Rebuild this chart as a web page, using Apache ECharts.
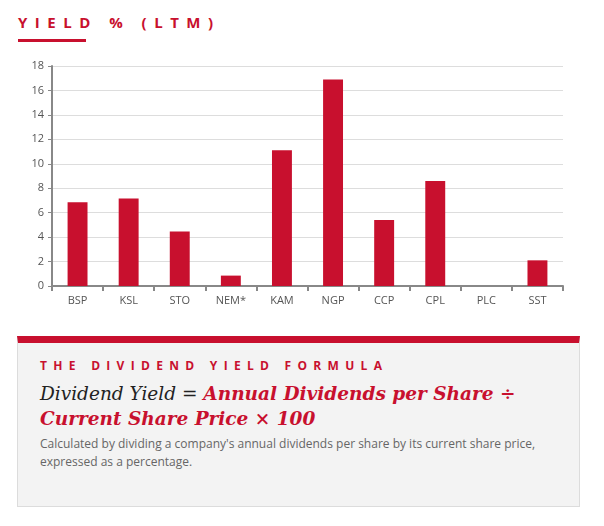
<!DOCTYPE html>
<html>
<head>
<meta charset="utf-8">
<script src="https://cdn.jsdelivr.net/npm/echarts@6/dist/echarts.min.js"></script>
<style>
  body{margin:0;width:604px;height:526px;background:#fff;position:relative;font-family:"Open Sans",sans-serif;overflow:hidden}
  .title{position:absolute;left:18px;top:12px;color:#c8102e;font-weight:bold;font-size:15px;letter-spacing:7.5px;font-family:"Open Sans",sans-serif}
  .uline{position:absolute;left:18px;top:39px;width:68px;height:3px;background:#c8102e}
  #chart{position:absolute;left:0;top:45px;width:604px;height:280px}
  .box{position:absolute;left:17px;top:336px;width:561px;height:163px;background:#f3f3f3;border:1px solid #dcdcdc;border-top:7px solid #c8102e}
  .head{position:absolute;left:22px;top:14px;color:#c8102e;font-weight:bold;font-size:12px;letter-spacing:6.3px}
  .formula{position:absolute;left:22px;top:38px;font-family:"DejaVu Serif",serif;font-style:italic;font-size:18.5px;line-height:25px;color:#222;width:530px}
  .formula b{color:#c8102e}
  .desc{position:absolute;left:22px;top:92px;font-size:12px;line-height:18px;color:#666;width:530px}
</style>
</head>
<body>
<div class="title">YIELD % (LTM)</div>
<div class="uline"></div>
<div id="chart"></div>
<div class="box">
  <div class="head">THE DIVIDEND YIELD FORMULA</div>
  <div class="formula">Dividend Yield = <b>Annual Dividends per Share ÷ Current Share Price × 100</b></div>
  <div class="desc">Calculated by dividing a company's annual dividends per share by its current share price, expressed as a percentage.</div>
</div>
<script>
const categories = ['BSP','KSL','STO','NEM*','KAM','NGP','CCP','CPL','PLC','SST'];
const yieldValues = [6.85, 7.15, 4.45, 0.85, 11.1, 16.9, 5.4, 8.6, 0, 2.1];

const chart = echarts.init(document.getElementById('chart'));
chart.setOption({
  animation: false,
  grid: {left: 52, right: 41, top: 21, bottom: 39},
  xAxis: {
    type: 'category',
    data: categories,
    axisLine: {lineStyle: {color: '#888', width: 2}},
    axisTick: {show: true, length: 5, lineStyle: {color: '#888', width: 2}},
    axisLabel: {color: '#555', fontSize: 11, margin: 9, fontFamily: 'Open Sans'}
  },
  yAxis: {
    type: 'value',
    min: 0, max: 18, interval: 2,
    axisLine: {show: true, lineStyle: {color: '#888', width: 2}},
    axisTick: {show: true, length: 4, lineStyle: {color: '#888'}},
    splitLine: {lineStyle: {color: '#ddd'}},
    axisLabel: {color: '#555', fontSize: 11, margin: 8, fontFamily: 'Open Sans'}
  },
  series: [{
    type: 'bar',
    data: yieldValues,
    barWidth: '39%',
    itemStyle: {color: '#c8102e'}
  }]
});
</script>
</body>
</html>
